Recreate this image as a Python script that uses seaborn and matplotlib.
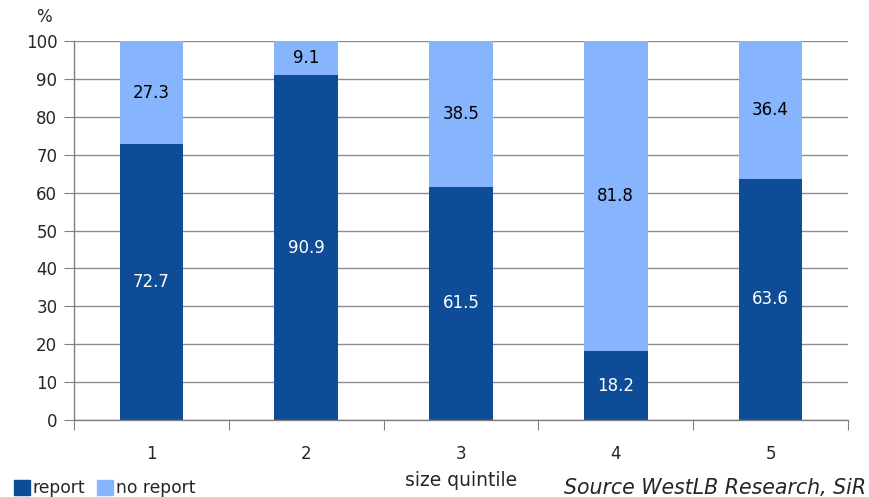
import matplotlib
matplotlib.use("Agg")
import matplotlib.pyplot as plt
import seaborn as sns
import pandas as pd
from matplotlib.patches import Patch

quintiles = ["1", "2", "3", "4", "5"]
report = [72.7, 90.9, 61.5, 18.2, 63.6]
no_report = [27.3, 9.1, 38.5, 81.8, 36.4]

dark = "#0f4c97"
light = "#87b5fd"

sns.set_style("white")
plt.rcParams["font.family"] = ["DejaVu Sans"]

df = pd.DataFrame({"quintile": quintiles, "report": report, "no_report": no_report})

fig = plt.figure(figsize=(8.7, 4.97), dpi=100)
ax = fig.add_axes([74 / 870, 77 / 497, 774 / 870, 379 / 497])

sns.barplot(data=df, x="quintile", y="report", color=dark, width=0.41,
            saturation=1, ax=ax, linewidth=0)
sns.barplot(data=df, x="quintile", y="no_report", color=light, width=0.41,
            saturation=1, ax=ax, linewidth=0, bottom=df["report"])

for i, (r, n) in enumerate(zip(report, no_report)):
    ax.text(i, r / 2, f"{r:.1f}", ha="center", va="center", color="white", fontsize=12)
    ax.text(i, r + n / 2, f"{n:.1f}", ha="center", va="center", color="black", fontsize=12)

ax.set_xlim(-0.5, 4.5)
ax.set_ylim(0, 100)
ax.set_yticks(range(0, 101, 10))
ax.tick_params(axis="y", labelsize=12, length=7, color="#808080", pad=5, left=True)
ax.yaxis.grid(True, color="#8c8c8c", linewidth=1)
ax.set_axisbelow(True)

ax.set_xticks([-0.5, 0.5, 1.5, 2.5, 3.5, 4.5])
ax.set_xticklabels([])
ax.set_xticks(range(5), minor=True)
ax.set_xticklabels(quintiles, minor=True)
ax.tick_params(axis="x", which="major", length=7, color="#808080", bottom=True, direction="out")
ax.tick_params(axis="x", which="minor", length=0, labelsize=12, pad=18)

for s in ["top", "right"]:
    ax.spines[s].set_visible(False)
for s in ["left", "bottom"]:
    ax.spines[s].set_color("#808080")
    ax.spines[s].set_linewidth(1)

ax.set_xlabel("")
ax.set_ylabel("")

fig.text(44 / 870, 1 - 17 / 497, "%", fontsize=12, ha="center", va="center")
fig.text(461 / 870, 1 - 481 / 497, "size quintile", fontsize=13.5, ha="center", va="center")
fig.text(866 / 870, 1 - 488 / 497, "Source WestLB Research, SiR", fontsize=14.8,
         style="italic", ha="right", va="center")

handles = [Patch(color=dark, label="report"), Patch(color=light, label="no report")]
fig.legend(handles=handles, loc="lower left", bbox_to_anchor=(0.008, -0.014), ncol=2,
           frameon=False, fontsize=12.3, handlelength=0.95, handleheight=0.95,
           handletextpad=0.15, columnspacing=0.7, borderaxespad=0)

fig.savefig("out.png", dpi=100)
